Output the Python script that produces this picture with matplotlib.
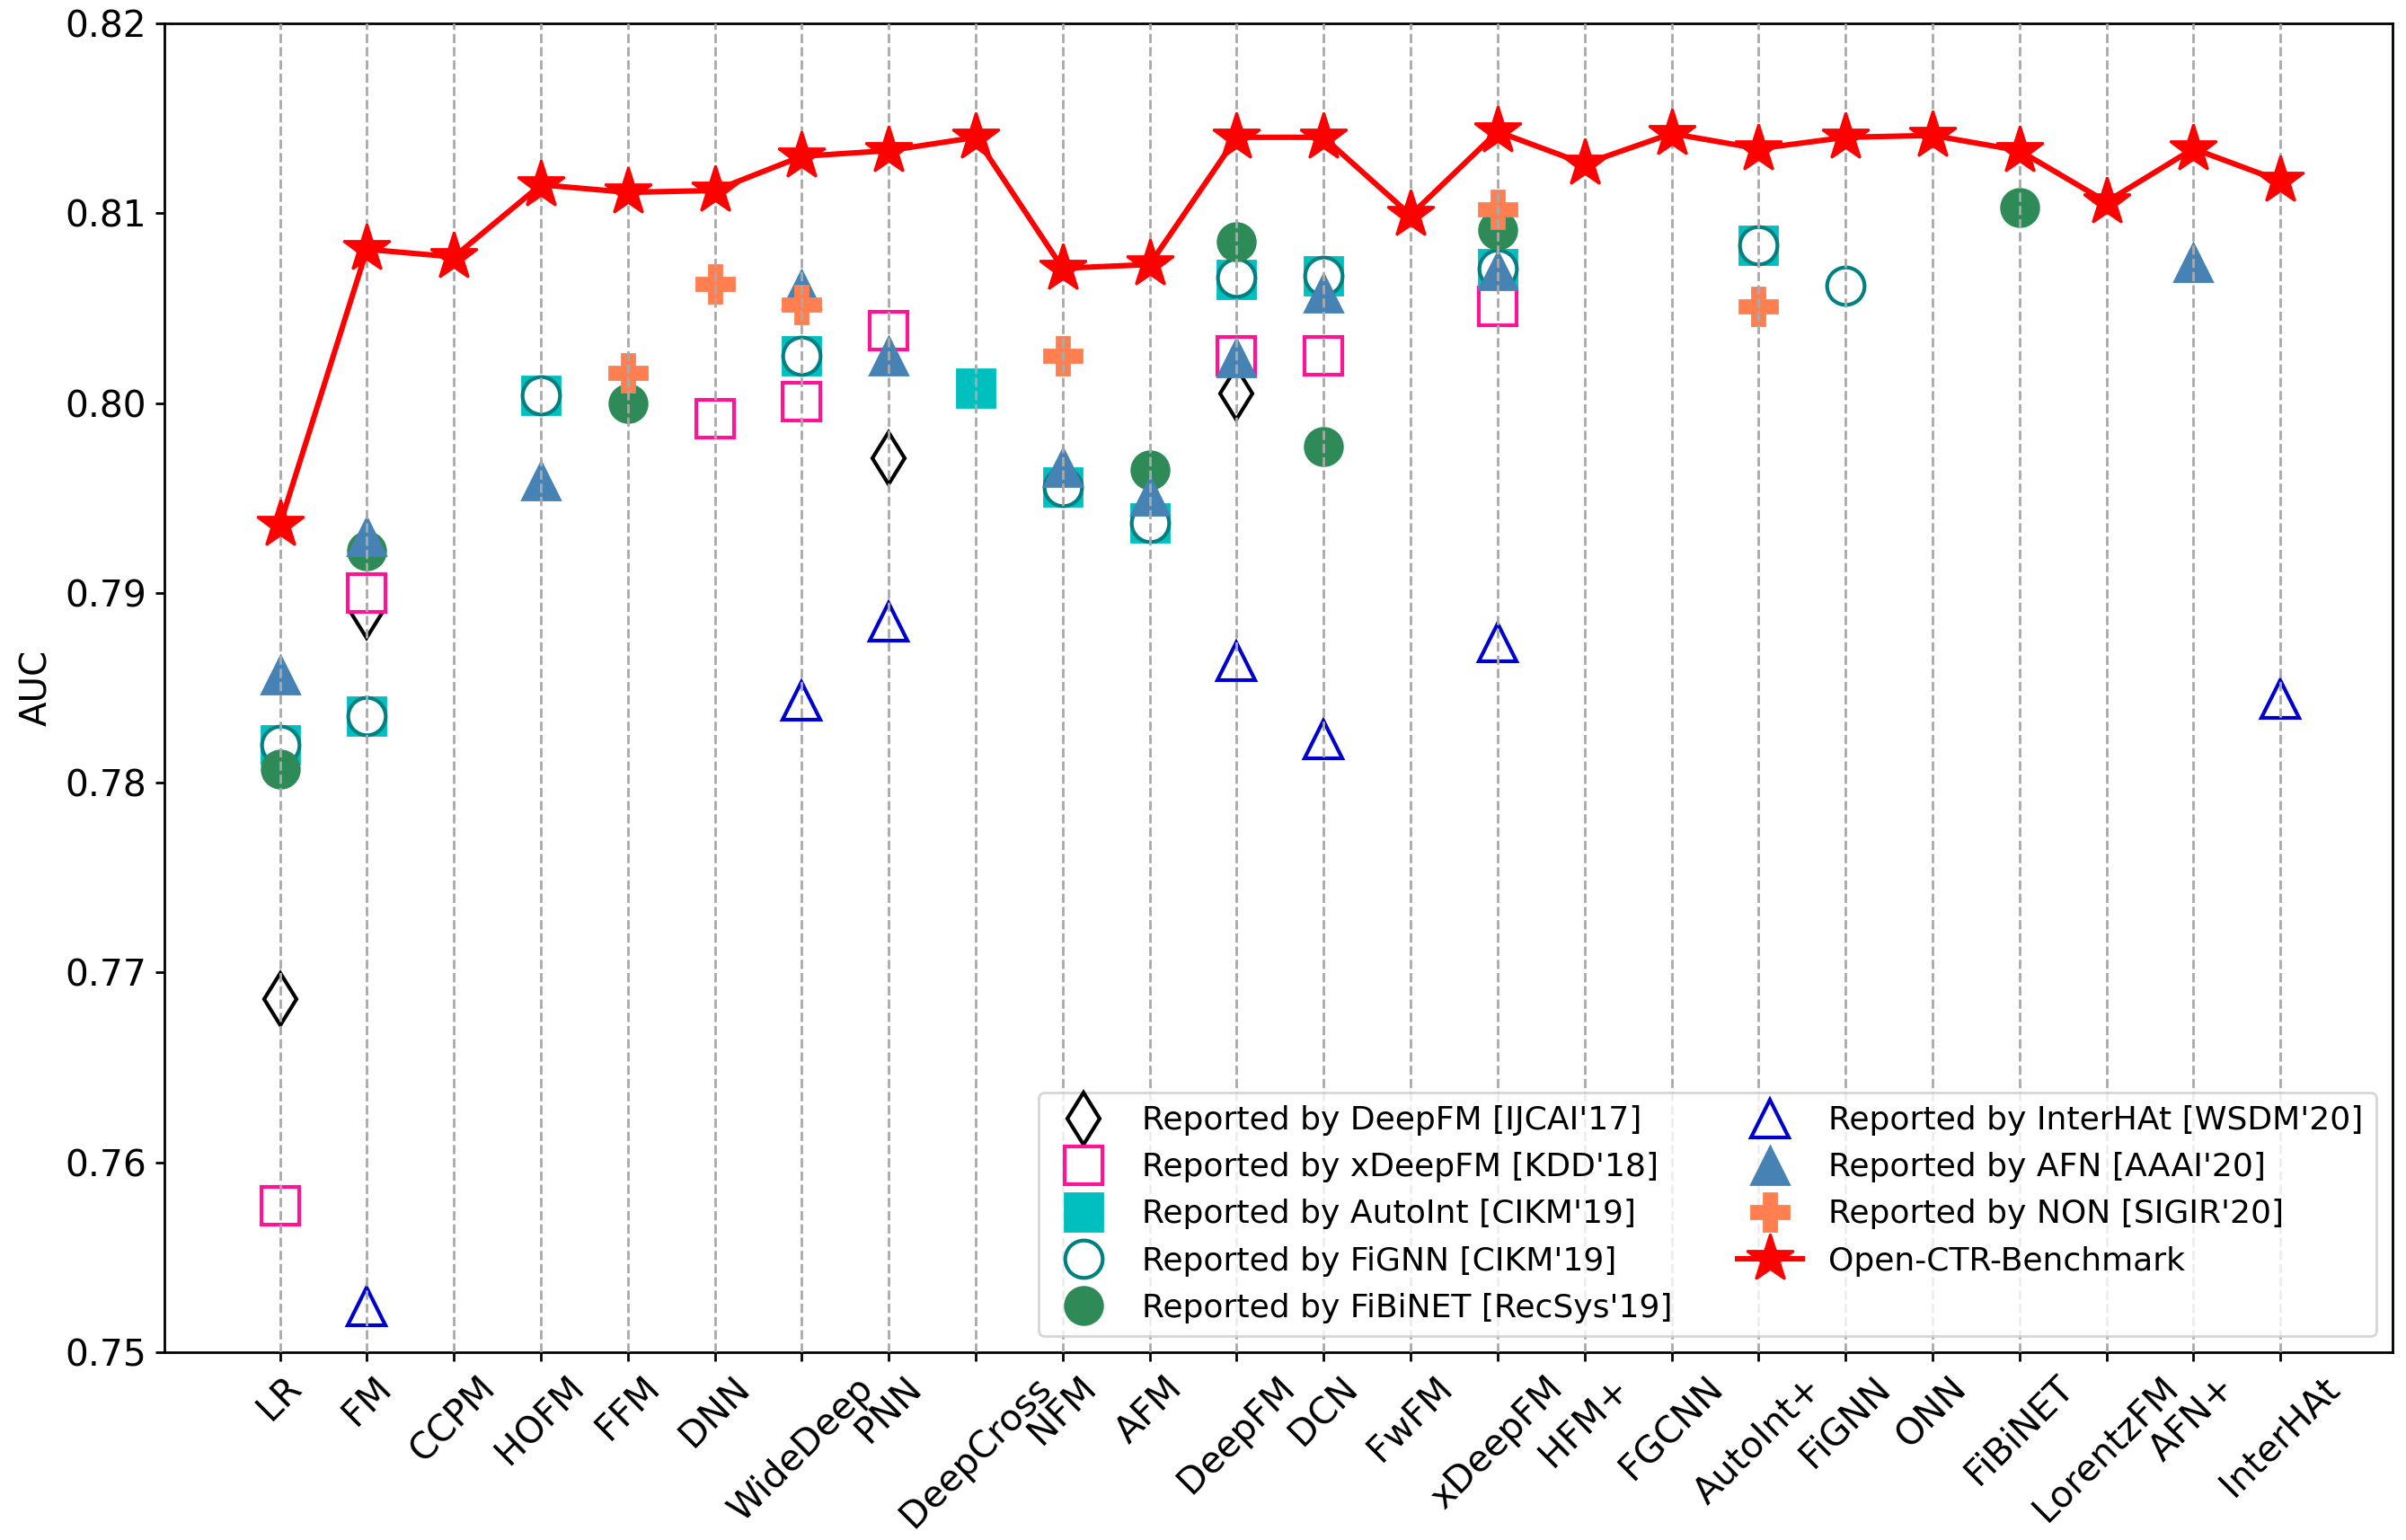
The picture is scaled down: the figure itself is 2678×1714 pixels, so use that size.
import matplotlib
matplotlib.use("Agg")
import matplotlib.pyplot as plt
import numpy as np

nan = np.nan

models = ["LR", "FM", "CCPM", "HOFM", "FFM", "DNN", "WideDeep", "PNN", "DeepCross",
          "NFM", "AFM", "DeepFM", "DCN", "FwFM", "xDeepFM", "HFM+", "FGCNN",
          "AutoInt+", "FiGNN", "ONN", "FiBiNET", "LorentzFM", "AFN+", "InterHAt"]

#              LR      FM      CCPM  HOFM    FFM     DNN     WideDp  PNN     DCross  NFM     AFM     DeepFM  DCN     FwFM  xDeepFM HFM+  FGCNN AutoInt+ FiGNN  ONN  FiBiNET Lorentz AFN+  InterHAt
auc_deepfm   = [0.7686, 0.7890, nan,   nan,    nan,    nan,    nan,    0.7971, nan,    nan,    nan,    0.8005, nan,    nan,  nan,    nan,  nan,  nan,    nan,    nan, nan,    nan,    nan,    nan]
auc_xdeepfm  = [0.7577, 0.7900, nan,   nan,    nan,    0.7992, 0.8001, 0.8038, nan,    nan,    nan,    0.8025, 0.8025, nan,  0.8051, nan,  nan,  nan,    nan,    nan, nan,    nan,    nan,    nan]
auc_autoint  = [0.7820, 0.7835, nan,   0.8004, nan,    nan,    0.8025, nan,    0.8008, 0.7956, 0.7937, 0.8065, 0.8067, nan,  0.8071, nan,  nan,  0.8083, nan,    nan, nan,    nan,    nan,    nan]
auc_fignn    = [0.7820, 0.7835, nan,   0.8004, nan,    nan,    0.8025, nan,    nan,    0.7956, 0.7937, 0.8066, 0.8067, nan,  0.8071, nan,  nan,  0.8083, 0.8062, nan, nan,    nan,    nan,    nan]
auc_fibinet  = [0.7807, 0.7922, nan,   nan,    0.8000, nan,    nan,    nan,    nan,    nan,    0.7965, 0.8085, 0.7977, nan,  0.8091, nan,  nan,  nan,    nan,    nan, 0.8103, nan,    nan,    nan]
auc_interhat = [nan,    0.7524, nan,   nan,    nan,    nan,    0.7843, 0.7885, nan,    nan,    nan,    0.7864, 0.7823, nan,  0.7874, nan,  nan,  nan,    nan,    nan, nan,    nan,    nan,    0.7844]
auc_afn      = [0.7857, 0.7930, nan,   0.7959, nan,    nan,    0.8060, 0.8025, nan,    0.7966, 0.7951, 0.8024, 0.8058, nan,  0.8070, nan,  nan,  nan,    nan,    nan, nan,    nan,    0.8074, nan]
auc_non      = [nan,    nan,    nan,   nan,    0.8016, 0.8063, 0.8052, nan,    nan,    0.8025, nan,    nan,    nan,    nan,  0.8102, nan,  nan,  0.8051, nan,    nan, nan,    nan,    nan,    nan]
auc_bench    = [0.7936, 0.8081, 0.8077, 0.8115, 0.8111, 0.8112, 0.8130, 0.8133, 0.8140, 0.8071, 0.8073, 0.8140, 0.8140, 0.8099, 0.8143, 0.8126, 0.8142, 0.8134, 0.8140, 0.8141, 0.8133, 0.8106, 0.8134, 0.8117]

x = np.arange(len(models))
ms = 15
mew = 1.5

fig = plt.figure(figsize=(13.39, 8.57), dpi=200)
ax = fig.add_subplot(111)
fig.subplots_adjust(left=0.0683, right=0.9944, top=0.9848, bottom=0.1219)

ax.plot(x, auc_deepfm, "d", ms=ms, mfc="white", mec="black", mew=mew, label="Reported by DeepFM [IJCAI'17]")
ax.plot(x, auc_xdeepfm, "s", ms=ms, mfc="white", mec="deeppink", mew=mew, label="Reported by xDeepFM [KDD'18]")
ax.plot(x, auc_autoint, "s", ms=ms, color="c", label="Reported by AutoInt [CIKM'19]")
ax.plot(x, auc_fignn, "o", ms=ms, mfc="white", mec="teal", mew=mew, label="Reported by FiGNN [CIKM'19]")
ax.plot(x, auc_fibinet, "o", ms=ms, color="seagreen", label="Reported by FiBiNET [RecSys'19]")
ax.plot(x, auc_interhat, "^", ms=ms, mfc="white", mec="mediumblue", mew=mew, label="Reported by InterHAt [WSDM'20]")
ax.plot(x, auc_afn, "^", ms=ms, color="steelblue", label="Reported by AFN [AAAI'20]")
ax.plot(x, auc_non, "P", ms=ms, color="coral", label="Reported by NON [SIGIR'20]")
ax.plot(x, auc_bench, "*-", ms=20, lw=2.2, color="red", zorder=3, label="Open-CTR-Benchmark")

ax.set_axisbelow(False)
ax.grid(True, axis="x", linestyle="--", color="darkgray", linewidth=1.0)

ax.set_xlim(-1.33, 24.29)
ax.set_ylim(0.75, 0.82)
ax.set_xticks(x)
ax.set_xticklabels(models, rotation=45, fontsize=14.7)
ax.set_yticks(np.arange(0.75, 0.8201, 0.01))
ax.set_yticklabels(["%.2f" % v for v in np.arange(0.75, 0.8201, 0.01)], fontsize=14.7)
ax.set_ylabel("AUC", fontsize=14.5)
for s in ax.spines.values():
    s.set_linewidth(1.0)
ax.tick_params(width=1.0)

ax.legend(loc="lower right", ncol=2, fontsize=13)

fig.savefig("out.png", dpi=200)
